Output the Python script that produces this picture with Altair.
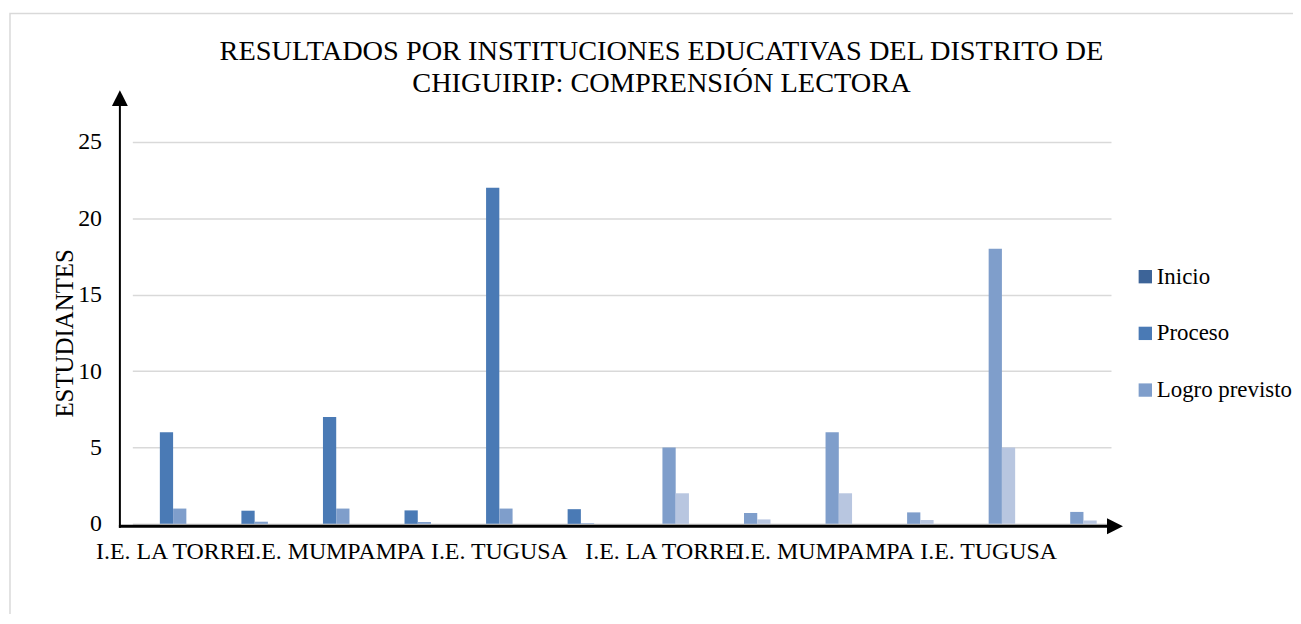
import json
import altair as alt
import pandas as pd

# ---- data ----
slots = ["C01", "C02", "C03", "C04", "C05", "C06", "C07", "C08", "C09", "C10", "C11", "C12"]
tick_labels = ["I.E. LA TORRE", "", "I.E. MUMPAMPA", "", "I.E. TUGUSA", "",
               "I.E. LA TORRE", "", "I.E. MUMPAMPA", "", "I.E. TUGUSA", ""]
series = ["Inicio", "Proceso", "Logro previsto", "Logro destacado"]
legend_series = ["Inicio", "Proceso", "Logro previsto"]
inicio = [0, 0, 0, 0, 0, 0, 0, 0, 0, 0, 0, 0]
proceso = [6, 0.86, 7, 0.88, 22, 0.96, 0, 0, 0, 0, 0, 0]
logro_previsto = [1, 0.14, 1, 0.12, 1, 0.04, 5, 0.71, 6, 0.75, 18, 0.78]
logro_destacado = [0, 0, 0, 0, 0, 0, 2, 0.29, 2, 0.25, 5, 0.22]
colors = ["#3d6498", "#4a7ab5", "#7f9ecb", "#b8c6e0"]

rows = []
for name, vals in zip(series, [inicio, proceso, logro_previsto, logro_destacado]):
    for s, v in zip(slots, vals):
        rows.append({"slot": s, "serie": name, "valor": v})
df = pd.DataFrame(rows)

label_map = json.dumps(dict(zip(slots, tick_labels)))
FONT = "Liberation Serif"

bars = alt.Chart(df).mark_bar().encode(
    x=alt.X("slot:N", sort=slots, title=None,
            scale=alt.Scale(paddingInner=0.35, paddingOuter=0.175),
            axis=alt.Axis(labelExpr=f"{label_map}[datum.value]", labelAngle=0,
                          domain=False, ticks=False, tickSize=0, labelPadding=16,
                          labelFont=FONT, labelFontSize=24, labelColor="black",
                          labelOverlap=False, labelBaseline="top")),
    xOffset=alt.XOffset("serie:N", sort=series, scale=alt.Scale(paddingInner=0, paddingOuter=0)),
    y=alt.Y("valor:Q", title="ESTUDIANTES",
            scale=alt.Scale(domain=[0, 25], nice=False),
            axis=alt.Axis(values=[0, 5, 10, 15, 20, 25], domain=False, ticks=False, tickSize=0,
                          labelPadding=31, labelFont=FONT, labelFontSize=24, labelColor="black",
                          grid=True, gridColor="#d9d9d9", gridWidth=1.5,
                          titleFont=FONT, titleFontSize=25, titleFontWeight="normal",
                          titleColor="black", titleX=-68, titleY=192, titleAngle=270,
                          titleAlign="center", titleBaseline="middle")),
    color=alt.Color("serie:N", sort=series,
                    scale=alt.Scale(domain=series, range=colors),
                    legend=alt.Legend(values=legend_series, title=None, orient="none",
                                      legendX=1007, legendY=124, symbolType="square",
                                      symbolSize=180, symbolStrokeWidth=0, rowPadding=33,
                                      labelOffset=0, labelFont=FONT, labelFontSize=23,
                                      labelColor="black", padding=0)),
)

one = pd.DataFrame({"k": [0]})
frame = alt.Chart(one).mark_rect(fillOpacity=0, stroke="#d9d9d9", strokeWidth=1.5).encode(
    x=alt.value(-123), x2=alt.value(1400), y=alt.value(-129), y2=alt.value(700))
y_line = alt.Chart(one).mark_rule(color="black", strokeWidth=2).encode(
    x=alt.value(-12.5), y=alt.value(-40), y2=alt.value(388))
x_line = alt.Chart(one).mark_rule(color="black", strokeWidth=3).encode(
    x=alt.value(-13.5), x2=alt.value(982), y=alt.value(386.5))
y_head = alt.Chart(one).mark_point(shape="M0,-1L1,1L-1,1Z", filled=True, color="black",
                                   opacity=1, size=256).encode(
    x=alt.value(-12.5), y=alt.value(-44))
x_head = alt.Chart(one).mark_point(shape="M-1,-1L1,0L-1,1Z", filled=True, color="black",
                                   opacity=1, size=256).encode(
    x=alt.value(988), y=alt.value(386.5))

chart = alt.layer(frame, bars, y_line, x_line, y_head, x_head).properties(
    width=984, height=384,
    padding={"left": 125, "top": 133, "right": 183, "bottom": 89},
    autosize=alt.AutoSizeParams(type="none"),
    title=alt.Title(["RESULTADOS POR INSTITUCIONES EDUCATIVAS DEL DISTRITO DE",
                     "CHIGUIRIP: COMPRENSIÓN LECTORA"],
                    font=FONT, fontSize=28.5, fontWeight="normal", color="black",
                    anchor="middle", dx=40, offset=48, dy=133, lineHeight=32),
).configure(background="white").configure_view(stroke=None)

chart.save("out.html", embed_options={"renderer": "svg", "actions": False})
